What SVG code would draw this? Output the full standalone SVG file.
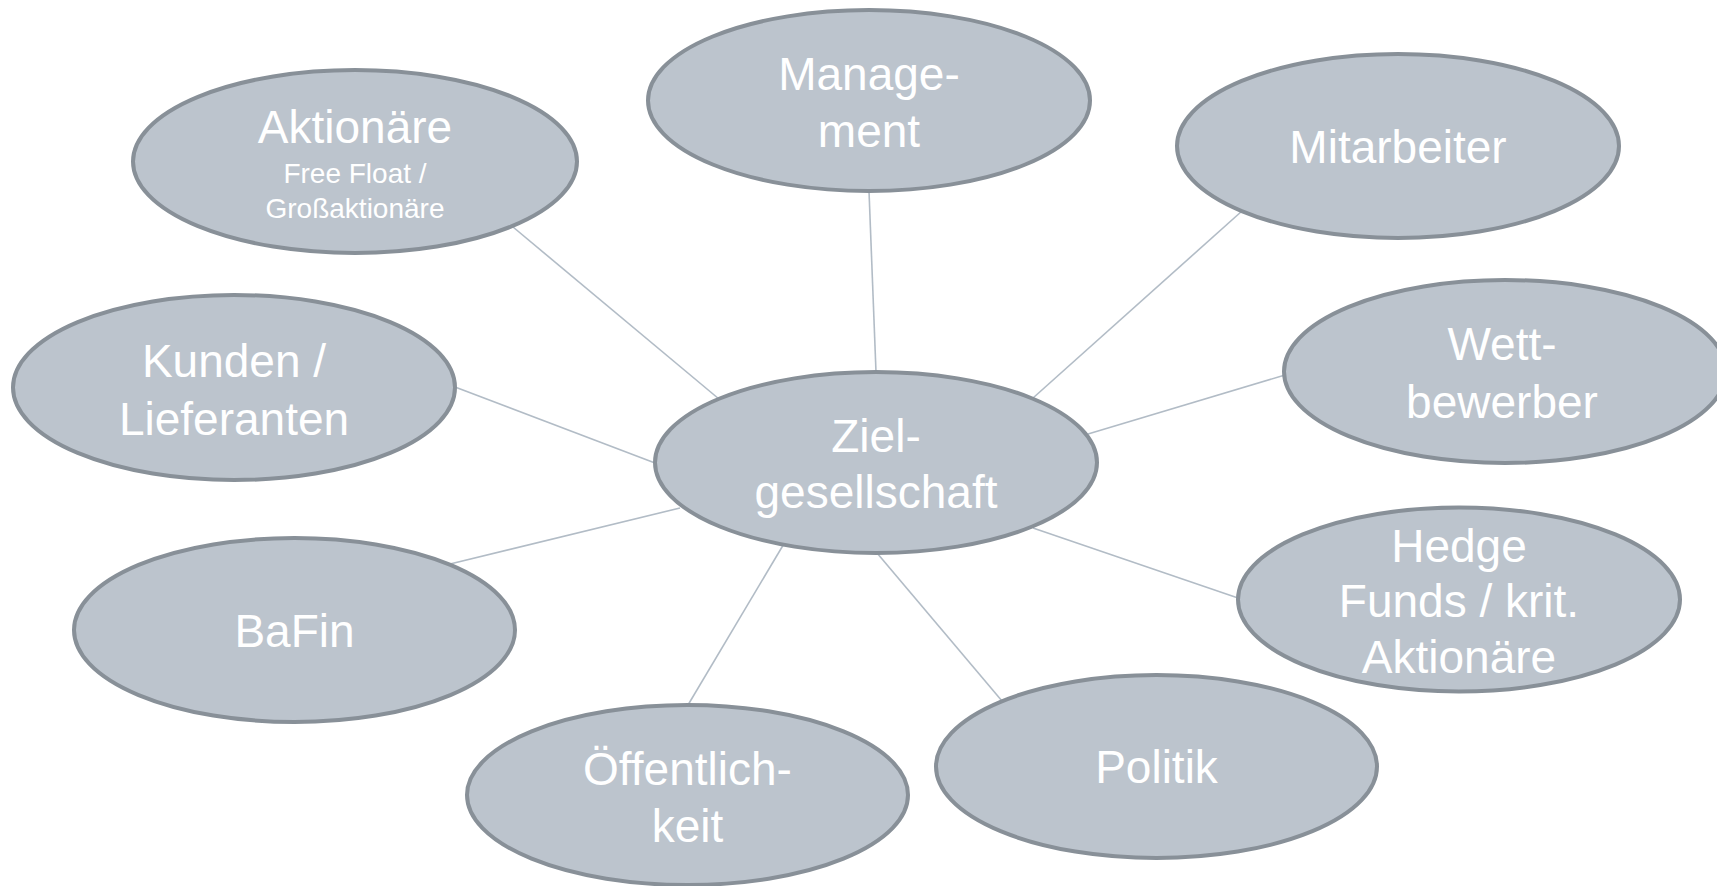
<svg xmlns="http://www.w3.org/2000/svg" width="1717" height="886" viewBox="0 0 1717 886">
<style>
.n{fill:#bcc4cd;stroke:#889098;stroke-width:4}
.t{font-family:"Liberation Sans",Arial,sans-serif;font-size:46px;fill:#ffffff;text-anchor:middle}
.s{font-size:28px}
.c line{stroke:#b2bcc6;stroke-width:1.6}
</style>
<rect width="1717" height="886" fill="#ffffff"/>
<g id="connectors" class="c">
<line x1="513" y1="227" x2="719" y2="399"/>
<line x1="869" y1="191" x2="876" y2="372"/>
<line x1="1242" y1="211" x2="1033" y2="398"/>
<line x1="455" y1="387" x2="655" y2="463"/>
<line x1="1088" y1="434" x2="1285" y2="375"/>
<line x1="450" y1="564" x2="680" y2="508"/>
<line x1="688" y1="705" x2="785" y2="542"/>
<line x1="1002" y1="701" x2="877" y2="553"/>
<line x1="1238" y1="598" x2="1033" y2="528"/>
</g>
<g id="management">
<ellipse class="n" cx="869" cy="100.5" rx="221" ry="90.5"/>
<text class="t" x="869" y="90">Manage-</text>
<text class="t" x="869" y="147">ment</text>
</g>
<g id="aktionaere">
<ellipse class="n" cx="355" cy="161.5" rx="222" ry="91.5"/>
<text class="t" x="355" y="143">Aktionäre</text>
<text class="t s" x="355" y="183">Free Float /</text>
<text class="t s" x="355" y="218">Großaktionäre</text>
</g>
<g id="mitarbeiter">
<ellipse class="n" cx="1398" cy="146" rx="221" ry="92"/>
<text class="t" x="1398" y="163">Mitarbeiter</text>
</g>
<g id="kunden">
<ellipse class="n" cx="234" cy="387.5" rx="221" ry="92.5"/>
<text class="t" x="234" y="377">Kunden /</text>
<text class="t" x="234" y="435">Lieferanten</text>
</g>
<g id="wettbewerber">
<ellipse class="n" cx="1505" cy="371.5" rx="221" ry="91.5"/>
<text class="t" x="1502" y="360">Wett-</text>
<text class="t" x="1502" y="418">bewerber</text>
</g>
<g id="zielgesellschaft">
<ellipse class="n" cx="876" cy="462.5" rx="221" ry="90.5"/>
<text class="t" x="876" y="452">Ziel-</text>
<text class="t" x="876" y="508">gesellschaft</text>
</g>
<g id="bafin">
<ellipse class="n" cx="294.5" cy="630" rx="220.5" ry="92"/>
<text class="t" x="294.5" y="647">BaFin</text>
</g>
<g id="hedgefunds">
<ellipse class="n" cx="1459" cy="599.5" rx="221" ry="92"/>
<text class="t" x="1459" y="562">Hedge</text>
<text class="t" x="1459" y="617">Funds / krit.</text>
<text class="t" x="1459" y="673">Aktionäre</text>
</g>
<g id="politik">
<ellipse class="n" cx="1156.5" cy="766.5" rx="220.5" ry="91.5"/>
<text class="t" x="1156.5" y="783">Politik</text>
</g>
<g id="oeffentlichkeit">
<ellipse class="n" cx="687.5" cy="795" rx="220.5" ry="90"/>
<text class="t" x="687.5" y="785">Öffentlich-</text>
<text class="t" x="687.5" y="842">keit</text>
</g>
</svg>
